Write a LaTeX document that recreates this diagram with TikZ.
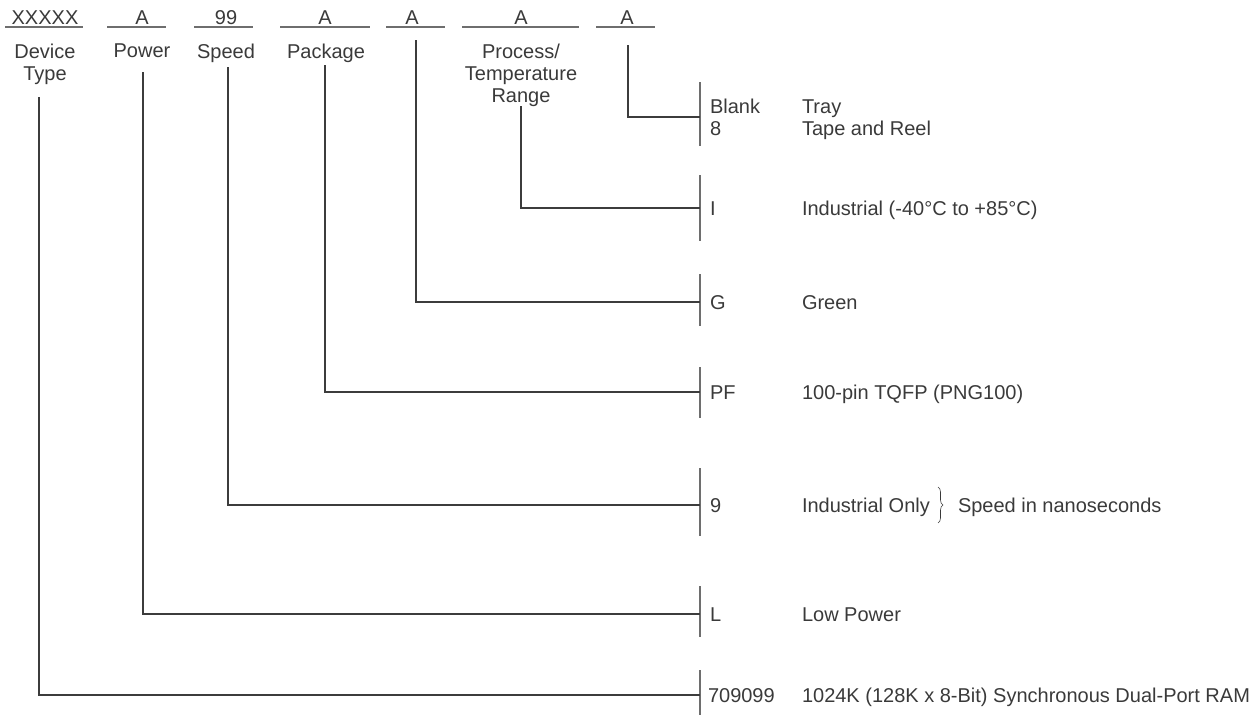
\documentclass[tikz,border=0pt]{standalone}
\usepackage{fontspec}
\setmainfont{Liberation Sans}
\usetikzlibrary{decorations.pathreplacing}
\definecolor{txt}{HTML}{3A3A3A}
\definecolor{ln}{HTML}{3C3C3C}
\definecolor{barc}{HTML}{6E6E6E}
\begin{document}
\begin{tikzpicture}[x=1pt,y=-1pt,
  every node/.style={inner sep=0pt,outer sep=0pt,text=txt,font=\fontsize{20}{22}\selectfont},
  top/.style={anchor=base},
  field/.style={anchor=north,align=center},
  lft/.style={anchor=base west},
  conn/.style={draw=ln,line width=1.1pt},
  barline/.style={draw=barc,line width=1.3pt},
  uline/.style={draw=barc,line width=1.2pt},
  brc/.style={draw=txt,line width=0.6pt,decorate,decoration={brace,amplitude=5pt}}]
\useasboundingbox (0,0) rectangle (1260,715);

% top code fields
\node[top] (tdev) at (45,24) {XXXXX};
\node[top] (tpow) at (142,24) {A};
\node[top] (tspd) at (226,24) {99};
\node[top] (tpkg) at (325,24) {A};
\node[top] (tgrn) at (412,24) {A};
\node[top] (tprc) at (521,24) {A};
\node[top] (tpck) at (627,24) {A};
\draw[uline] (5,27) -- (83,27);
\draw[uline] (107,27) -- (166,27);
\draw[uline] (194,27) -- (253,27);
\draw[uline] (280,27) -- (370,27);
\draw[uline] (386,27) -- (445,27);
\draw[uline] (462,27) -- (579,27);
\draw[uline] (596,27) -- (655,27);

% field names
\node[field] (ldev) at (45,44) {Device\\Type};
\node[field] (lpow) at (142,44) {Power};
\node[field] (lspd) at (226,44) {Speed};
\node[field] (lpkg) at (326,44) {Package};
\node[field] (lprc) at (521,44) {Process/\\Temperature\\Range};

% connector starts
\coordinate (vdev) at (39,97);
\coordinate (vpow) at (143,72);
\coordinate (vspd) at (228,67);
\coordinate (vpkg) at (325,65);
\coordinate (vgrn) at (416,40);
\coordinate (vprc) at (521,106);
\coordinate (vpck) at (628,45);

% row points on the bars
\coordinate (r1) at (700,117);
\coordinate (r2) at (700,208);
\coordinate (r3) at (700,302);
\coordinate (r4) at (700,392);
\coordinate (r5) at (700,505);
\coordinate (r6) at (700,614);
\coordinate (r7) at (700,695);

% bars
\draw[barline] (700,82) -- (700,146);
\draw[barline] (700,175) -- (700,241);
\draw[barline] (700,274) -- (700,326);
\draw[barline] (700,367) -- (700,418);
\draw[barline] (700,468) -- (700,536);
\draw[barline] (700,586) -- (700,637);
\draw[barline] (700,670) -- (700,715);

% connectors
\draw[conn] (vpck) |- (r1);
\draw[conn] (vprc) |- (r2);
\draw[conn] (vgrn) |- (r3);
\draw[conn] (vpkg) |- (r4);
\draw[conn] (vspd) |- (r5);
\draw[conn] (vpow) |- (r6);
\draw[conn] (vdev) |- (r7);

% codes
\node[lft] (cblank) at (710,113) {Blank};
\node[lft] (c8) at (710,135) {8};
\node[lft] (cI) at (710,215) {I};
\node[lft] (cG) at (710,309) {G};
\node[lft] (cPF) at (710,399) {PF};
\node[lft] (c9) at (710,512) {9};
\node[lft] (cL) at (710,621) {L};
\node[lft] (cdev) at (708,702) {709099};

% descriptions
\node[lft] (dtray) at (802,113) {Tray};
\node[lft] (dtape) at (802,135) {Tape and Reel};
\node[lft] (dind) at (802,215) {Industrial (-40°C to +85°C)};
\node[lft] (dgrn) at (802,309) {Green};
\node[lft] (dpkg) at (802,399) {100-pin TQFP (PNG100)};
\node[lft] (dspd) at (802,512) {Industrial Only};
\draw[brc] (938,487) -- (938,523);
\node[lft] (dns) at (958,512) {Speed in nanoseconds};
\node[lft] (dlow) at (802,621) {Low Power};
\node[lft] (dram) at (802,702) {1024K (128K x 8-Bit) Synchronous Dual-Port RAM};
\end{tikzpicture}
\end{document}
